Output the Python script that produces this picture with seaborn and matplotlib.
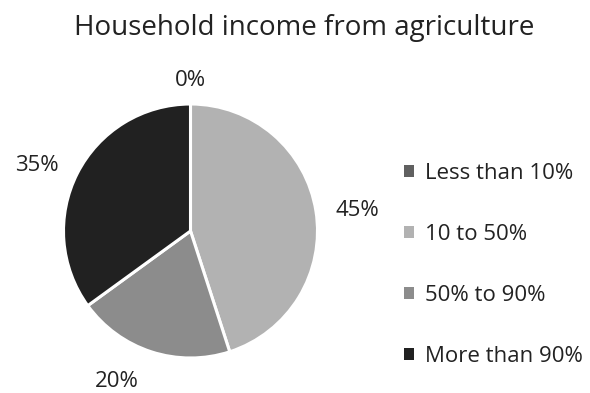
import numpy as np
import matplotlib
matplotlib.use("Agg")
import matplotlib.pyplot as plt
from matplotlib.patches import Patch
from matplotlib.transforms import offset_copy
import seaborn as sns

categories = ["Less than 10%", "10 to 50%", "50% to 90%", "More than 90%"]
shares = [0, 45, 20, 35]
colors = ["#606060", "#b2b2b2", "#8c8c8c", "#212121"]

# label placement: radial distance and angular nudge (degrees) from the wedge middle
label_dist = [1.205, 1.328, 1.30, 1.325]
label_nudge = [0, -1, -8.5, 3]

sns.set_style("white")
plt.rcParams["font.family"] = ["Open Sans", "DejaVu Sans"]

W, H = 590, 393
fig = plt.figure(figsize=(W / 100, H / 100), dpi=100)
cx, cy, r = 190.5, 231, 127
ax = fig.add_axes([(cx - r) / W, (H - cy - r) / H, 2 * r / W, 2 * r / H])

wedges, _ = ax.pie(shares, colors=colors, startangle=90, counterclock=False,
                   wedgeprops=dict(edgecolor="white", linewidth=2.2))
ax.set_xlim(-1, 1)
ax.set_ylim(-1, 1)
ax.axis("off")

# shift labels so the digits (not the full line box) sit on the anchor point
lbl_tr = offset_copy(ax.transData, fig=fig, y=-2.5, units="dots")
for w, v, d, nd in zip(wedges, shares, label_dist, label_nudge):
    ang = np.deg2rad((w.theta1 + w.theta2) / 2 + nd)
    ax.text(d * np.cos(ang), d * np.sin(ang), f"{v}%", ha="center", va="center",
            fontsize=16, color="#222222", transform=lbl_tr)

fig.text(304 / W, 1 - 28 / H, "Household income from agriculture", ha="center", va="center",
         fontsize=20, color="#222222")

handles = [Patch(facecolor=c, edgecolor="none") for c in colors]
fig.legend(handles, categories, loc="center left", bbox_to_anchor=(384 / W, 1 - 265 / H),
           frameon=False, fontsize=16, labelspacing=1.8, handlelength=0.45,
           handleheight=0.45, handletextpad=0.5, labelcolor="#222222")

fig.savefig("out.png", dpi=100)
